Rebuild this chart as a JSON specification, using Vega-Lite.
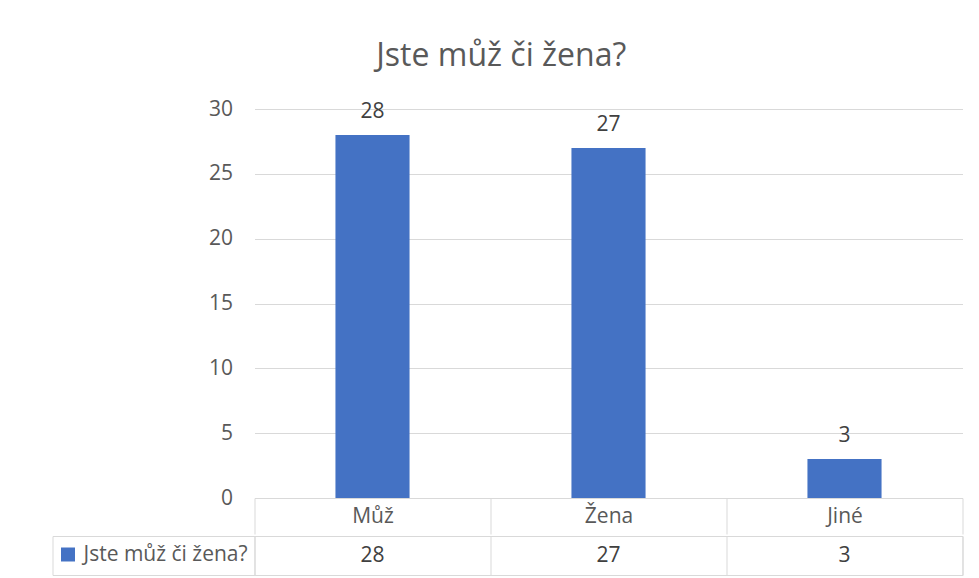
{
  "$schema": "https://vega.github.io/schema/vega-lite/v6.json",
  "background": "white",
  "padding": {"left": 51.5, "top": 40, "right": 0, "bottom": 0},
  "spacing": 0,
  "title": {"text": "Jste můž či žena?", "fontSize": 32, "font": "Open Sans", "fontWeight": "normal", "color": "#595959", "anchor": "middle", "offset": 25, "dx": -6},
  "data": {"values": [
    {"cat": "Můž", "count": 28, "series": "Jste můž či žena?"},
    {"cat": "Žena", "count": 27, "series": "Jste můž či žena?"},
    {"cat": "Jiné", "count": 3, "series": "Jste můž či žena?"}
  ]},
  "vconcat": [
    {
      "width": 708,
      "height": 389,
      "view": {"stroke": null},
      "encoding": {
        "x": {"field": "cat", "type": "nominal", "sort": null,
          "scale": {"paddingInner": 0, "paddingOuter": 0},
          "axis": {"title": null, "labelFontSize": 21, "labelColor": "#595959", "labelPadding": -18, "labelBaseline": "middle", "labelAngle": 0, "tickBand": "extent", "tickSize": 36, "tickColor": "#d9d9d9", "domainColor": "#d9d9d9", "grid": false}}
      },
      "layer": [
        {
          "mark": {"type": "bar", "width": {"band": 0.314}},
          "encoding": {
            "y": {"field": "count", "type": "quantitative", "scale": {"domain": [0, 30], "nice": false},
              "axis": {"title": null, "values": [0, 5, 10, 15, 20, 25, 30], "grid": true, "gridColor": "#d9d9d9", "domain": false, "ticks": false, "labelFontSize": 21, "labelColor": "#595959", "labelPadding": 22}},
            "color": {"field": "series", "type": "nominal", "scale": {"range": ["#4472C4"]},
              "legend": {"title": null, "orient": "none", "legendX": -197, "legendY": 435, "symbolType": "square", "symbolSize": 196, "symbolStrokeWidth": 0, "labelFontSize": 21, "labelColor": "#595959", "labelOffset": 5, "labelLimit": 400, "padding": 0}}
          }
        },
        {
          "mark": {"type": "text", "dy": -17, "baseline": "alphabetic", "fontSize": 21, "color": "#404040"},
          "encoding": {
            "y": {"field": "count", "type": "quantitative"},
            "text": {"field": "count", "type": "quantitative"}
          }
        }
      ]
    },
    {
      "width": 708,
      "height": 39,
      "view": {"stroke": "#d9d9d9"},
      "layer": [
        {
          "mark": {"type": "text", "fontSize": 21, "color": "#404040"},
          "encoding": {
            "x": {"field": "cat", "type": "nominal", "sort": null, "scale": {"paddingInner": 0, "paddingOuter": 0},
              "axis": {"title": null, "labels": false, "ticks": false, "domain": false, "grid": true, "gridColor": "#d9d9d9", "tickBand": "extent"}},
            "y": {"field": "series", "type": "nominal", "scale": {"paddingInner": 0, "paddingOuter": 0},
              "axis": {"title": null, "orient": "left", "labels": false, "domain": false, "ticks": true, "tickSize": 202, "tickColor": "#d9d9d9", "tickBand": "extent"}},
            "text": {"field": "count", "type": "quantitative"}
          }
        },
        {
          "mark": {"type": "text", "opacity": 0},
          "encoding": {
            "x": {"field": "cat", "type": "nominal", "sort": null},
            "y": {"field": "series", "type": "nominal",
              "axis": {"title": null, "orient": "left", "labels": false, "ticks": false, "domain": true, "domainColor": "#d9d9d9", "offset": 202}},
            "text": {"field": "count", "type": "quantitative"}
          }
        }
      ],
      "resolve": {"axis": {"y": "independent"}}
    }
  ],
  "config": {
    "font": "Open Sans",
    "axis": {"labelFont": "Open Sans"},
    "legend": {"labelFont": "Open Sans"},
    "text": {"font": "Open Sans"}
  }
}
